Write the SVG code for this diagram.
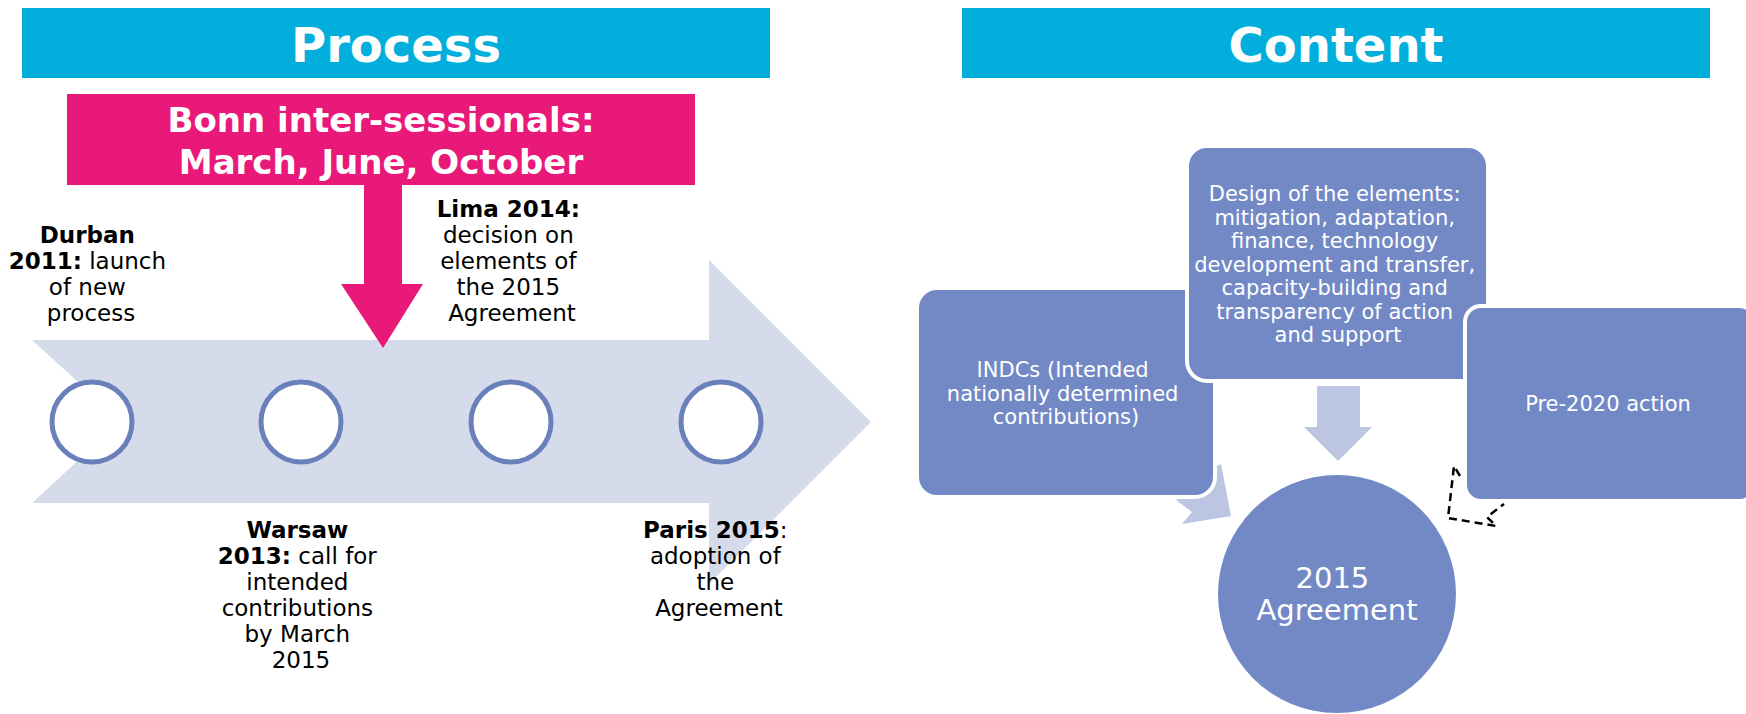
<svg xmlns="http://www.w3.org/2000/svg" width="1746" height="714" viewBox="0 0 1746 714">
  <style>
    .title { font-family: "DejaVu Sans", Verdana, sans-serif; font-weight: bold; font-size: 48px; fill: #ffffff; text-anchor: middle; }
    .bonn { font-family: "DejaVu Sans", Verdana, sans-serif; font-weight: bold; font-size: 34px; fill: #ffffff; text-anchor: middle; }
    .ms { font-family: "DejaVu Sans", Verdana, sans-serif; font-size: 23px; fill: #000000; text-anchor: middle; }
    .ms .b { font-weight: bold; }
    .box { fill: #7289c6; stroke: #ffffff; stroke-width: 4; }
    .boxtxt { font-family: "DejaVu Sans", Verdana, sans-serif; font-size: 21px; fill: #ffffff; text-anchor: middle; }
    .dot { fill: #ffffff; stroke: #6a80bb; stroke-width: 5; }
    .light { fill: #bcc5e2; }
  </style>

  <!-- section headers -->
  <g id="process-header">
    <rect x="22" y="8" width="748" height="70" fill="#02aedc"/>
    <text class="title" x="396" y="62">Process</text>
  </g>
  <g id="content-header">
    <rect x="962" y="8" width="748" height="70" fill="#02aedc"/>
    <text class="title" x="1336" y="62">Content</text>
  </g>

  <!-- timeline band -->
  <g id="timeline">
    <polygon points="32,340 709,340 709,260 871,422 709,584 709,503 32,503 121,421" fill="#d5dbeb"/>
  </g>

  <!-- connectors -->
  <g id="connectors">
    <!-- callout arrow from the Bonn box onto the timeline -->
    <polygon points="364,184 402,184 402,284 423,284 383,348 341,284 364,284" fill="#e9197a"/>
    <!-- elements into the agreement -->
    <polygon class="light" points="1317,386 1360,386 1360,427 1372,427 1338,461 1304,427 1317,427"/>
    <!-- INDCs into the agreement -->
    <polygon class="light" points="1221,464 1231,516 1182,524 1192,512 1176,500 1196,488 1212,468"/>
    <!-- pre-2020 action (dashed) -->
    <path d="M1460,476 L1454,466 L1448,518 L1496,526 L1487,517 L1504,504" fill="none" stroke="#000000" stroke-width="2.5" stroke-dasharray="8 5"/>
  </g>

  <g id="bonn">
    <rect x="67" y="94" width="628" height="91" fill="#e9197a"/>
    <text class="bonn" x="381" y="132">Bonn inter-sessionals:</text>
    <text class="bonn" x="381" y="174">March, June, October</text>
  </g>

  <!-- milestones -->
  <g id="durban">
    <circle class="dot" cx="92" cy="422" r="40"/>
    <text class="ms" x="91">
      <tspan class="b" x="91" y="243">Durban</tspan>
      <tspan x="91" y="269"><tspan class="b">2011:</tspan> launch</tspan>
      <tspan x="91" y="295">of new</tspan>
      <tspan x="91" y="321">process</tspan>
    </text>
  </g>
  <g id="warsaw">
    <circle class="dot" cx="301" cy="422" r="40"/>
    <text class="ms" x="301">
      <tspan class="b" x="301" y="538">Warsaw</tspan>
      <tspan x="301" y="564"><tspan class="b">2013:</tspan> call for</tspan>
      <tspan x="301" y="590">intended</tspan>
      <tspan x="301" y="616">contributions</tspan>
      <tspan x="301" y="642">by March</tspan>
      <tspan x="301" y="668">2015</tspan>
    </text>
  </g>
  <g id="lima">
    <circle class="dot" cx="511" cy="422" r="40"/>
    <text class="ms" x="512">
      <tspan class="b" x="512" y="217">Lima 2014:</tspan>
      <tspan x="512" y="243">decision on</tspan>
      <tspan x="512" y="269">elements of</tspan>
      <tspan x="512" y="295">the 2015</tspan>
      <tspan x="512" y="321">Agreement</tspan>
    </text>
  </g>
  <g id="paris">
    <circle class="dot" cx="721" cy="422" r="40"/>
    <text class="ms" x="719">
      <tspan x="719" y="538"><tspan class="b">Paris 2015</tspan>:</tspan>
      <tspan x="719" y="564">adoption of</tspan>
      <tspan x="719" y="590">the</tspan>
      <tspan x="719" y="616">Agreement</tspan>
    </text>
  </g>

  <!-- content blocks -->
  <g id="indcs">
    <rect class="box" x="917" y="288" width="298" height="209" rx="20"/>
    <text class="boxtxt">
      <tspan x="1066" y="377">INDCs (Intended</tspan>
      <tspan x="1066" y="401">nationally determined</tspan>
      <tspan x="1066" y="424">contributions)</tspan>
    </text>
  </g>
  <g id="elements">
    <rect class="box" x="1187" y="146" width="301" height="235" rx="20"/>
    <text class="boxtxt">
      <tspan x="1338" y="201">Design of the elements:</tspan>
      <tspan x="1338" y="225">mitigation, adaptation,</tspan>
      <tspan x="1338" y="248">finance, technology</tspan>
      <tspan x="1338" y="272">development and transfer,</tspan>
      <tspan x="1338" y="295">capacity-building and</tspan>
      <tspan x="1338" y="319">transparency of action</tspan>
      <tspan x="1338" y="342">and support</tspan>
    </text>
  </g>
  <g id="pre2020">
    <rect class="box" x="1465" y="306" width="290" height="195" rx="16"/>
    <text class="boxtxt" x="1608" y="411">Pre-2020 action</text>
  </g>
  <g id="agreement">
    <circle cx="1337" cy="594" r="119" fill="#7289c6"/>
    <text class="boxtxt" style="font-size:29px">
      <tspan x="1337" y="588">2015</tspan>
      <tspan x="1337" y="620">Agreement</tspan>
    </text>
  </g>
</svg>
